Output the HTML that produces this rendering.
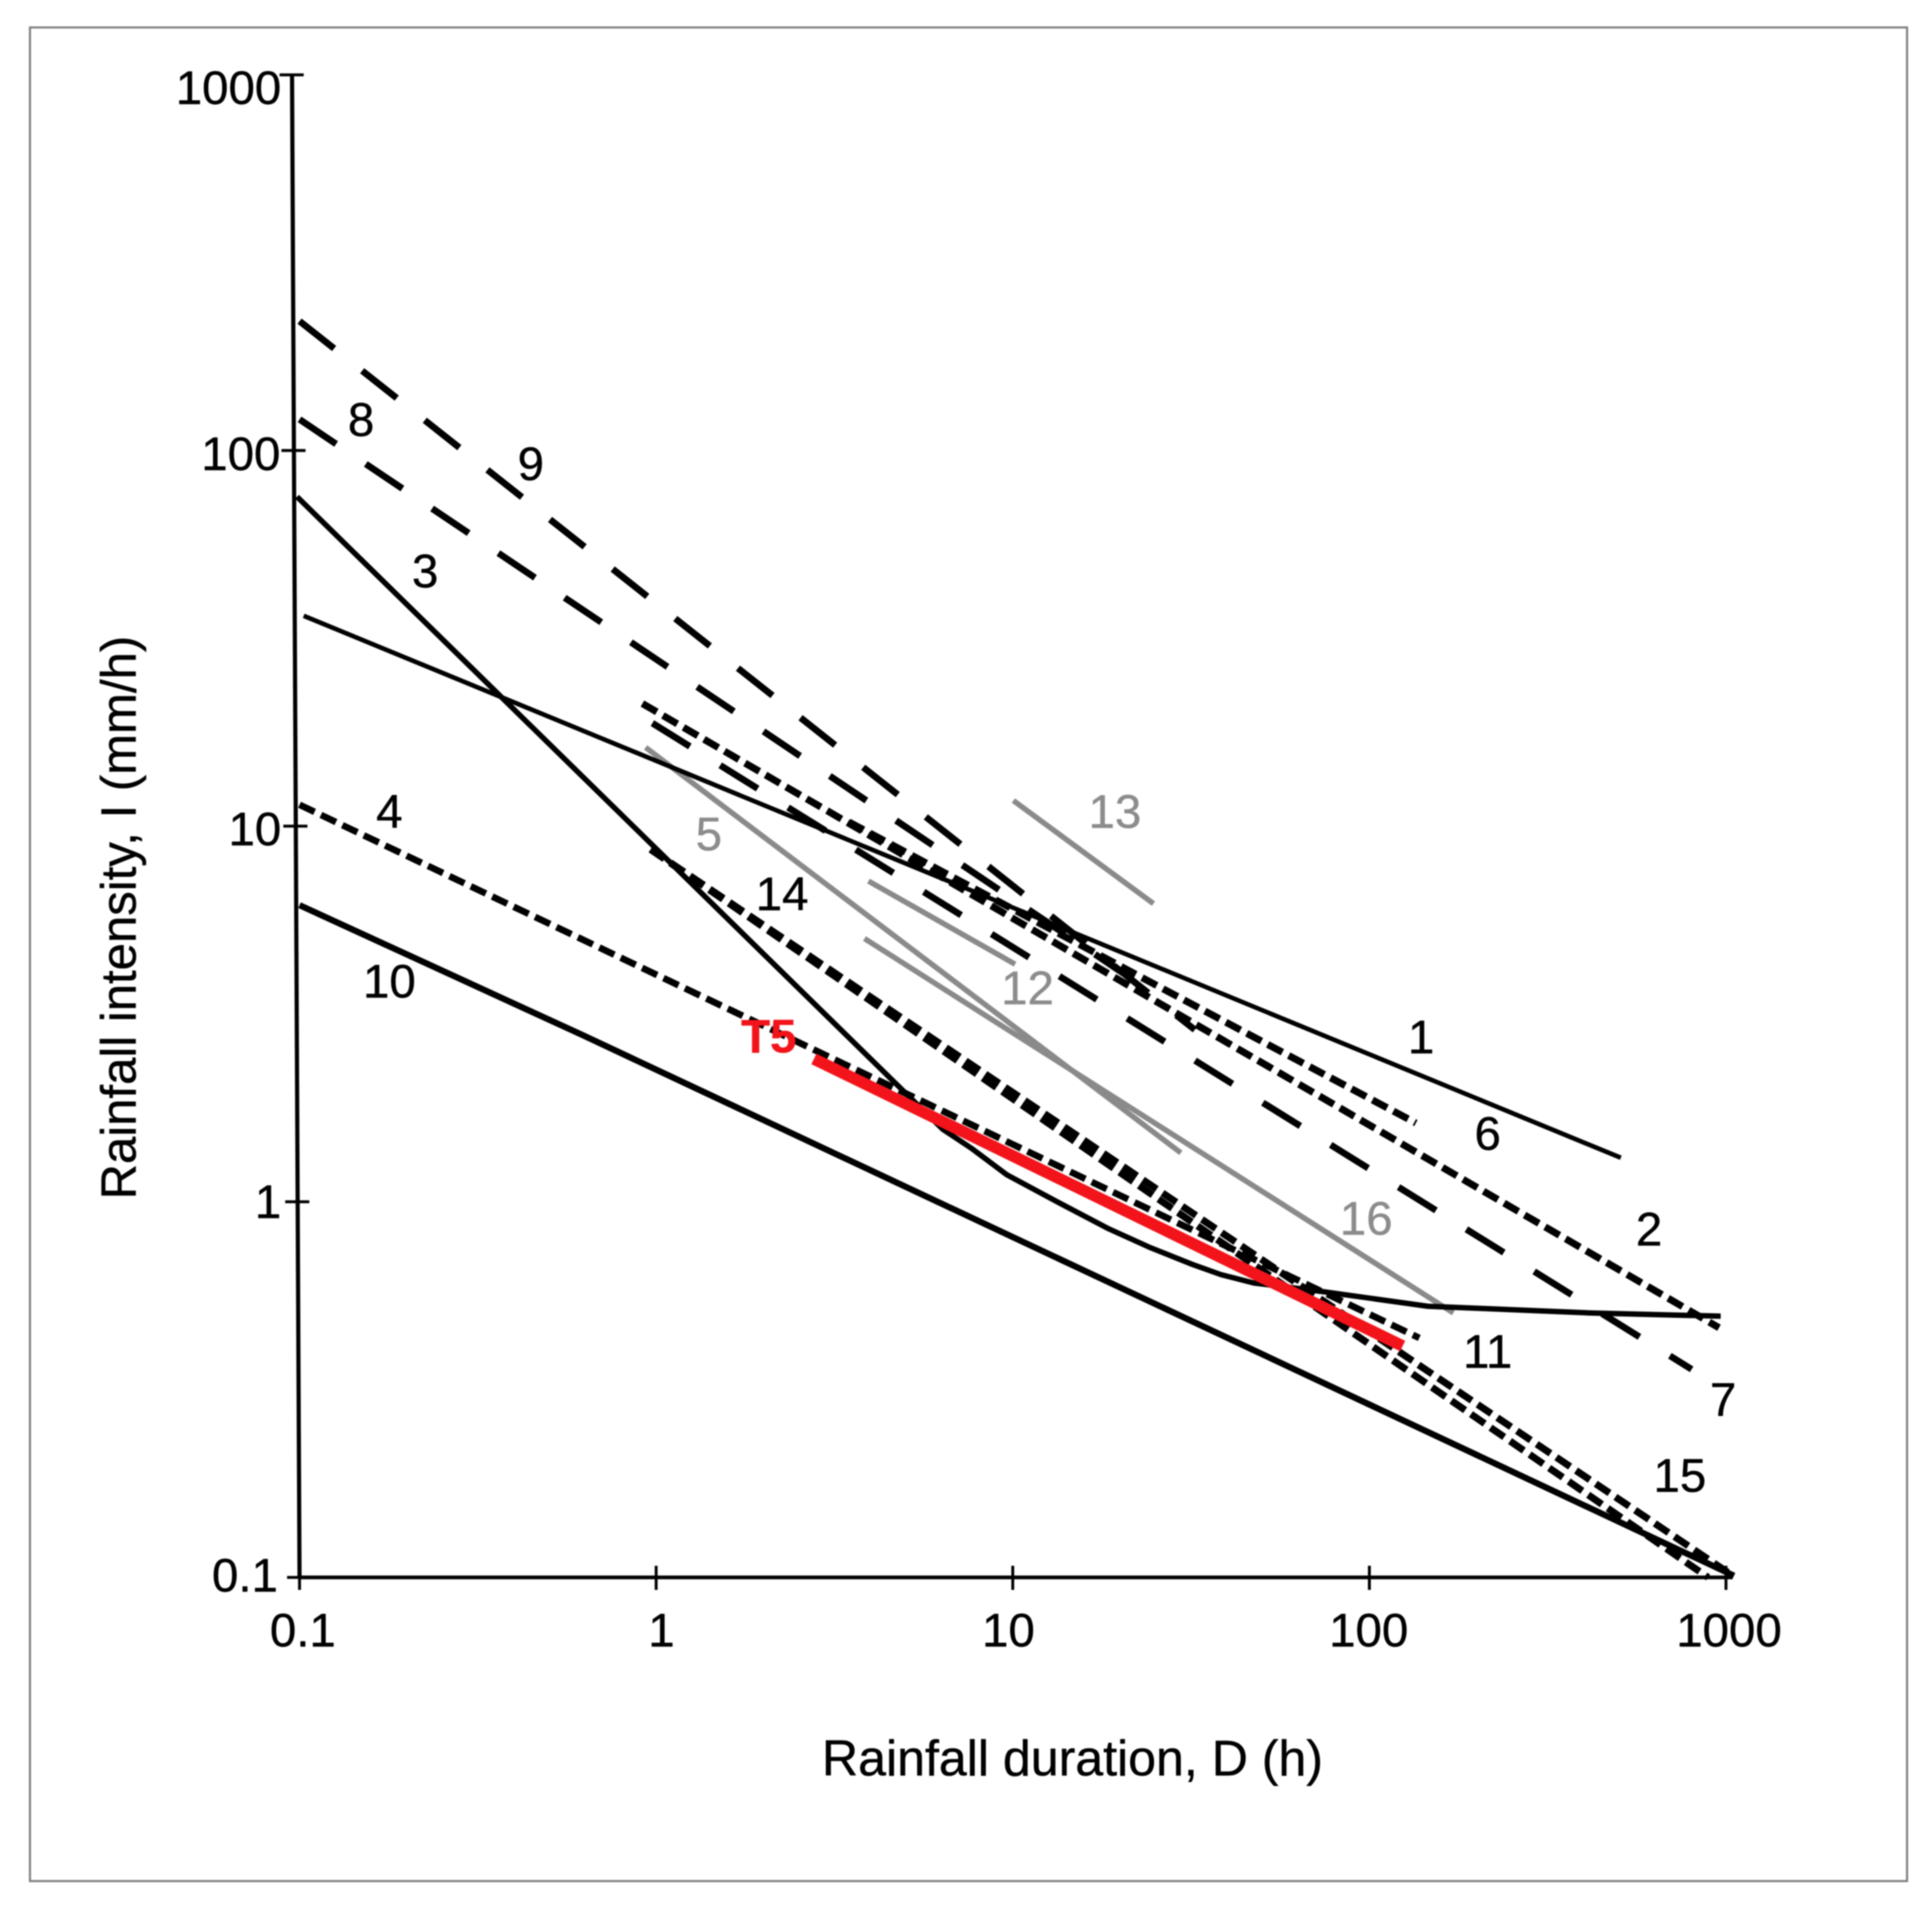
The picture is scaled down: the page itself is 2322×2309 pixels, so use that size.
<!DOCTYPE html>
<html lang="en">
<head>
<meta charset="utf-8">
<title>Rainfall intensity-duration thresholds</title>
<style>
html,body{margin:0;padding:0;background:#fff;}
svg{display:block;filter:blur(.7px);}
text{font-family:"Liberation Sans",Arial,sans-serif;fill:#000;stroke:#000;stroke-width:.5px;}
.tick{font-size:57px;}
.title{font-size:59px;}
.lab{font-size:57px;text-anchor:middle;}
text.grey{fill:#8c8c8c;stroke:#8c8c8c;}
</style>
</head>
<body>
<svg id="chart" xmlns="http://www.w3.org/2000/svg" width="2322" height="2309" viewBox="0 0 2322 2309">
  <rect x="36" y="33" width="2256" height="2228" fill="#fff" stroke="#7f7f7f" stroke-width="2.5"/>
  <g id="axes"></g>
  <g id="marks"></g>

  <g>
    <text class="tick" x="338" y="125" text-anchor="end">1000</text>
    <text class="tick" x="337" y="565" text-anchor="end">100</text>
    <text class="tick" x="338" y="1016" text-anchor="end">10</text>
    <text class="tick" x="338" y="1464" text-anchor="end">1</text>
    <text class="tick" x="334" y="1913" text-anchor="end">0.1</text>
  </g>
  <g>
    <text class="tick" x="364" y="1979" text-anchor="middle">0.1</text>
    <text class="tick" x="795" y="1979" text-anchor="middle">1</text>
    <text class="tick" x="1212" y="1979" text-anchor="middle">10</text>
    <text class="tick" x="1645" y="1979" text-anchor="middle">100</text>
    <text class="tick" x="2078" y="1979" text-anchor="middle">1000</text>
  </g>
  <text class="title" x="1289" y="2134" text-anchor="middle" style="font-size:60.2px">Rainfall duration, D (h)</text>
  <text class="title" text-anchor="middle" transform="translate(163 1103) rotate(-90)">Rainfall intensity, I (mm/h)</text>

  <g>
    <text class="lab" x="1708" y="1266">1</text>
    <text class="lab" x="1982" y="1497">2</text>
    <text class="lab" x="511" y="706">3</text>
    <text class="lab" x="468" y="995">4</text>
    <text class="lab grey" x="852" y="1022">5</text>
    <text class="lab" x="1788" y="1382">6</text>
    <text class="lab" x="2071" y="1702">7</text>
    <text class="lab" x="434" y="524">8</text>
    <text class="lab" x="638" y="577">9</text>
    <text class="lab" x="468" y="1199">10</text>
    <text class="lab" x="1788" y="1644">11</text>
    <text class="lab grey" x="1235" y="1207">12</text>
    <text class="lab grey" x="1340" y="995">13</text>
    <text class="lab" x="940" y="1094">14</text>
    <text class="lab" x="2019" y="1793">15</text>
    <text class="lab grey" x="1642" y="1484">16</text>
    <text class="lab" x="924" y="1265" style="fill:#f2141a;stroke:#f2141a;font-weight:bold">T5</text>
  </g>
</svg>
<script>
// Tick values
const xTicks = [0.1, 1, 10, 100, 1000];
const yTicks = [0.1, 1, 10, 100, 1000];

// Series values: duration D (h) and intensity I (mm/h)
const d1 = [0.1027, 507];            const i1 = [36.3, 1.31];
const d2 = [0.915, 956];             const i2 = [21.2, 0.462];
const d3 = [0.0984, 4.86, 6.36, 7.64, 9.62, 13.1, 18.6, 24.4, 31.9, 38.3, 47.4, 69.8, 146, 413, 966];
const i3 = [75.3, 2.0, 1.56, 1.39, 1.18, 1.008, 0.847, 0.754, 0.681, 0.640, 0.608, 0.581, 0.527, 0.506, 0.496];
const d4 = [0.1, 138];               const i4 = [11.4, 0.434];
const d5 = [0.934, 29.6];            const i5 = [16.2, 1.35];
const d6 = [3.47, 135];              const i6 = [10.26, 1.62];
const d7 = [0.976, 801];             const i7 = [18.8, 0.358];
const d8 = [0.1, 20.4];              const i8 = [121, 4.06];
const d9 = [0.1, 32.4];              const i9 = [221, 2.87];
const d10 = [0.1, 0.621, 1053];      const i10 = [6.16, 2.78, 0.101];
const d12 = [3.94, 10.15];           const i12 = [7.14, 4.29];
const d13 = [10.04, 24.8];           const i13 = [11.7, 6.22];
const d14 = [0.965, 1020];           const i14 = [8.67, 0.1026];
const d15 = [0.965, 891];            const i15 = [8.67, 0.1];
const d16 = [3.84, 172];             const i16 = [5.02, 0.506];
const dT5 = [2.77, 124];             const iT5 = [2.40, 0.413];

// Axis functions (log-log)
function xScale(v){ return 360 + 428.6 * (Math.log10(v) + 1); }
function yScale(v){ return 1896 - 451.5 * (Math.log10(v) + 1); }
function yAxisX(v){ return 360 - 2.25 * (Math.log10(v) + 1); }

const NS = 'http://www.w3.org/2000/svg';
const axes = document.getElementById('axes');
const marks = document.getElementById('marks');

function seg(parent, x1, y1, x2, y2, w){
  const l = document.createElementNS(NS, 'line');
  l.setAttribute('x1', x1);
  l.setAttribute('y1', y1);
  l.setAttribute('x2', x2);
  l.setAttribute('y2', y2);
  l.setAttribute('stroke', '#000');
  l.setAttribute('stroke-width', w);
  parent.appendChild(l);
  return l;
}

const yAxisLine = seg(axes, yAxisX(1000), yScale(1000), yAxisX(0.1), yScale(0.1), 5);


const xAxisLine = seg(axes, xScale(0.1), yScale(0.1), xScale(1000) + 8, yScale(0.1), 4.5);



xTicks.forEach(function(v){
  const t = seg(axes, xScale(v), yScale(0.1) - 14, xScale(v), yScale(0.1) + 15, 3.5);
  
  
});
yTicks.forEach(function(v){
  const t = seg(axes, yAxisX(v) - 15, yScale(v), yAxisX(v) + 14, yScale(v), 3.5);
  
  
});

function drawLine(name, ds, is, color, width, dash){
  const p = document.createElementNS(NS, 'polyline');
  const pts = ds.map(function(d, k){ return xScale(d).toFixed(1) + ',' + yScale(is[k]).toFixed(1); }).join(' ');
  p.setAttribute('points', pts);
  p.setAttribute('fill', 'none');
  p.setAttribute('stroke', color);
  p.setAttribute('stroke-width', width);
  p.setAttribute('stroke-linejoin', 'round');
  if (dash) p.setAttribute('stroke-dasharray', dash);
  
  
  marks.appendChild(p);
}

const GREY = '#8a8a8a';
const LONG = '53 43';
const SHORT = '20 8.5';

drawLine('line-5', d5, i5, GREY, 6.5);
drawLine('line-12', d12, i12, GREY, 6.5);
drawLine('line-13', d13, i13, GREY, 6.5);
drawLine('line-16', d16, i16, GREY, 6.5);
drawLine('line-1', d1, i1, '#000', 5.5);
drawLine('line-3', d3, i3, '#000', 6.5);
drawLine('line-10', d10, i10, '#000', 7.5);
drawLine('line-7', d7, i7, '#000', 8, LONG);
drawLine('line-8', d8, i8, '#000', 8, LONG);
drawLine('line-9', d9, i9, '#000', 8, LONG);
drawLine('line-2', d2, i2, '#000', 8.5, SHORT);
drawLine('line-6', d6, i6, '#000', 8.5, SHORT);
drawLine('line-4-11', d4, i4, '#000', 8, SHORT);
drawLine('line-14', d14, i14, '#000', 8.5, SHORT);
drawLine('line-15', d15, i15, '#000', 8.5, SHORT);
drawLine('line-t5', dT5, iT5, '#f2141a', 14);
</script>
</body>
</html>
